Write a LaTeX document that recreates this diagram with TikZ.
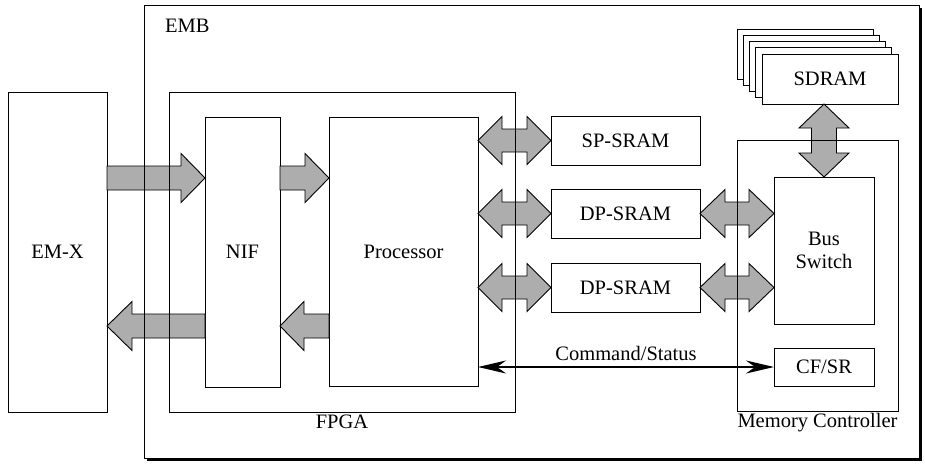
\documentclass[tikz,border=0pt]{standalone}
\usepackage{fontspec}
\setmainfont{Liberation Serif}
\newfontfamily\tmsfont{Liberation Serif}
\usetikzlibrary{calc,arrows.meta}
\definecolor{fatgray}{gray}{0.68}
\tikzset{
  box/.style={draw, line width=1pt, fill=white, inner sep=0pt, outer sep=0pt, anchor=north west, align=center},
  frame/.style={draw, line width=1pt},
  fatstyle/.style={draw, line width=0.9pt, fill=fatgray, line join=miter},
  lbl/.style={inner sep=0pt},
  cmd/.style={line width=2pt, {Stealth[length=28pt,width=13pt,inset=9pt]}-{Stealth[length=28pt,width=13pt,inset=9pt]}}
}
% single fat arrow from #1 to #2, head length #3, shaft half width #4, head half width #5
\newcommand\fatS[5]{%
  \path coordinate (hb) at ($(#2)!#3!(#1)$);
  \draw[fatstyle] ($(#1)!#4!90:(#2)$) -- ($(hb)!#4!90:(#2)$) -- ($(hb)!#5!90:(#2)$) -- (#2)
     -- ($(hb)!#5!-90:(#2)$) -- ($(hb)!#4!-90:(#2)$) -- ($(#1)!#4!-90:(#2)$) -- cycle;}
% double fat arrow between #1 and #2
\newcommand\fatD[5]{%
  \path coordinate (hbA) at ($(#1)!#3!(#2)$) coordinate (hbB) at ($(#2)!#3!(#1)$);
  \draw[fatstyle] (#1) -- ($(hbA)!#5!90:(#2)$) -- ($(hbA)!#4!90:(#2)$) -- ($(hbB)!#4!-90:(#1)$)
     -- ($(hbB)!#5!-90:(#1)$) -- (#2) -- ($(hbB)!#5!90:(#1)$) -- ($(hbB)!#4!90:(#1)$)
     -- ($(hbA)!#4!-90:(#2)$) -- ($(hbA)!#5!-90:(#2)$) -- cycle;}
\begin{document}
\begin{tikzpicture}[x=1pt,y=-1pt,font=\tmsfont\fontsize{20.5}{23}\selectfont]
\useasboundingbox (0,0) rectangle (925,463);
% EMB with drop shadow
\node[box, minimum width=775pt, minimum height=453pt] (emb) at (144,5) {};
\fill[black] ($(emb.north west)+(3,3)$) rectangle ($(emb.south east)+(3,3)$);
\node[box, minimum width=775pt, minimum height=453pt] at (144,5) {};
\node[lbl, anchor=west] (emblbl) at ($(emb.north west)+(21,21)$) {EMB};

% blocks
\node[box, minimum width=99pt, minimum height=320pt] (emx) at (8,92) {EM-X};
\node[box, minimum width=346pt, minimum height=320pt] (fpga) at (169,92) {};
\node[box, minimum width=75pt, minimum height=270pt] (nif) at (205,117) {NIF};
\node[box, minimum width=149pt, minimum height=269pt] (proc) at (329,117) {Processor};
\node[box, minimum width=149pt, minimum height=49pt] (sp) at (551,116) {SP-SRAM};
\node[box, minimum width=149pt, minimum height=49pt] (dp1) at (551,189) {DP-SRAM};
\node[box, minimum width=149pt, minimum height=49pt] (dp2) at (551,263) {DP-SRAM};
\node[box, minimum width=161pt, minimum height=271pt] (mc) at (737,140) {};
\node[box, minimum width=100pt, minimum height=147pt] (bus) at (774,177) {Bus\\Switch};
\node[box, minimum width=100pt, minimum height=38pt] (cfsr) at (774,348) {CF/SR};
% SDRAM stack
\node[box, minimum width=136pt, minimum height=50pt] (sd4) at (737,29) {};
\node[box, minimum width=136pt, minimum height=50pt] (sd3) at (743.25,35.25) {};
\node[box, minimum width=136pt, minimum height=50pt] (sd2) at (749.5,41.5) {};
\node[box, minimum width=136pt, minimum height=50pt] (sd1) at (755.75,47.75) {};
\node[box, minimum width=136pt, minimum height=50pt] (sd0) at (762,54) {SDRAM};

\node[lbl] (fpgalbl) at ($(fpga.south west)+(173,10)$) {FPGA};
\node[lbl] (mclbl) at ($(mc.south)+(0,12)$) {Memory Controller};

% arrow end points
\coordinate (a1s) at ($(emx.north east)+(0,86)$);
\coordinate (a1e) at ($(nif.north west)+(0,61)$);
\coordinate (a2s) at ($(nif.north east)+(0,61)$);
\coordinate (a2e) at ($(proc.north west)+(0,61)$);
\coordinate (a3s) at ($(nif.north west)+(0,209)$);
\coordinate (a3e) at ($(emx.north east)+(0,234)$);
\coordinate (a4s) at ($(proc.north west)+(0,209)$);
\coordinate (a4e) at ($(nif.north east)+(0,209)$);
\coordinate (p1) at (proc.east |- sp.west);
\coordinate (p2) at (proc.east |- dp1.west);
\coordinate (p3) at (proc.east |- dp2.west);
\coordinate (b1) at (bus.west |- dp1.east);
\coordinate (b2) at (bus.west |- dp2.east);
\coordinate (s0) at (bus.north |- sd0.south);
\coordinate (c0) at (proc.east |- cfsr.west);

\fatS{a1s}{a1e}{24pt}{12pt}{24.5pt}
\fatS{a2s}{a2e}{24pt}{12pt}{24.5pt}
\fatS{a3s}{a3e}{25pt}{12pt}{24.5pt}
\fatS{a4s}{a4e}{24pt}{12pt}{24.5pt}
\fatD{p1}{sp.west}{24pt}{11.5pt}{24pt}
\fatD{p2}{dp1.west}{24pt}{11.5pt}{24pt}
\fatD{p3}{dp2.west}{24pt}{11.5pt}{24pt}
\fatD{dp1.east}{b1}{25pt}{11.5pt}{24pt}
\fatD{dp2.east}{b2}{25pt}{11.5pt}{24pt}
\fatD{s0}{bus.north}{24pt}{12.5pt}{25pt}

% frame outlines over the arrows
\draw[frame] (emb.north west) rectangle (emb.south east);
\draw[frame] (fpga.north west) rectangle (fpga.south east);
\draw[frame] (mc.north west) rectangle (mc.south east);

% command / status
\draw[cmd] (c0) -- node[lbl, above=5pt] (cmdlbl) {Command/Status} (cfsr.west);
\end{tikzpicture}
\end{document}
